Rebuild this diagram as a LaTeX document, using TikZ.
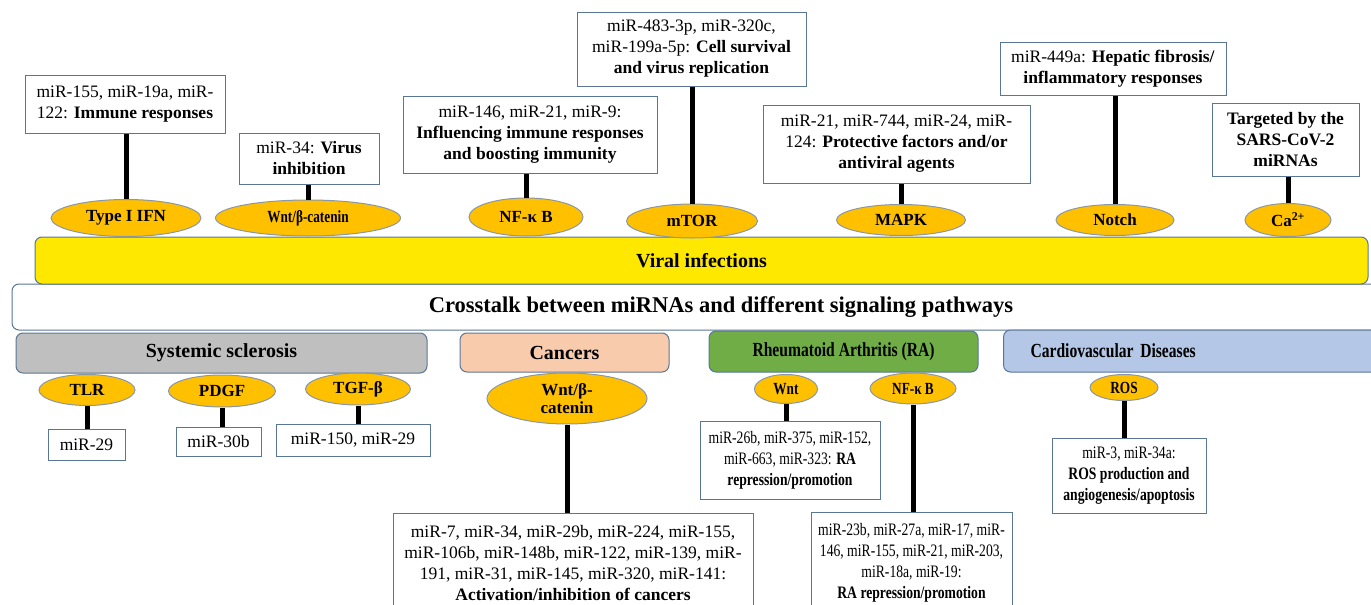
\documentclass[tikz,border=0pt]{standalone}
\usepackage{fontspec}
\setmainfont{Liberation Serif}
\newfontfamily\condensed{Liberation Serif}[FakeStretch=0.78]
\usetikzlibrary{shapes.geometric}

\definecolor{viralyellow}{HTML}{FFE800}
\definecolor{pathgold}{HTML}{FFC000}
\definecolor{boxedge}{HTML}{5A7696}
\definecolor{ovaledge}{HTML}{8A97A6}
\definecolor{ssgray}{HTML}{BFBFBF}
\definecolor{cancerpink}{HTML}{F8CBAD}
\definecolor{ragreen}{HTML}{70AD47}
\definecolor{cvdblue}{HTML}{B4C7E7}

\tikzset{
  mirbox/.style={draw=boxedge, fill=white, line width=1pt, align=center, inner sep=0pt,
                 font=\fontsize{17.5}{21}\selectfont},
  pathway/.style={ellipse, draw=ovaledge, fill=pathgold, line width=1pt, inner sep=0pt,
                  align=center, font=\bfseries\fontsize{17}{18}\selectfont},
  disease/.style={draw=boxedge, rounded corners=7pt, line width=1pt, inner sep=0pt,
                  font=\bfseries\fontsize{20}{22}\selectfont},
  narrowbox/.style={font=\condensed\fontsize{17.5}{21}\selectfont},
  narrowoval/.style={font=\condensed\bfseries\fontsize{17}{18}\selectfont},
  narrowlabel/.style={font=\condensed\bfseries\fontsize{20}{22}\selectfont},
  link/.style={line width=5pt, draw=black},
}

\begin{document}
\begin{tikzpicture}[x=1pt, y=-1pt]
  \clip (0,0) rectangle (1371,605);
  %
  % the two long bars
  \node[disease, fill=white, minimum width=1418pt, minimum height=46pt,
        font=\bfseries\fontsize{22.5}{24}\selectfont] (crosstalk) at (721,307)
       {Crosstalk between miRNAs and different signaling pathways};
  \node[disease, fill=viralyellow, minimum width=1333pt, minimum height=47pt] (viral) at (701.5,260.5)
       {Viral infections};
  %
  % viral infections: pathways
  \node[pathway, minimum width=150pt, minimum height=37pt] (ifn)   at (126,218)  {Type I IFN};
  \node[pathway, narrowoval, minimum width=185pt, minimum height=36pt] (vwnt) at (308,218) {Wnt/β-catenin};
  \node[pathway, minimum width=114pt, minimum height=38pt] (vnfkb) at (526,217)  {NF-κ B};
  \node[pathway, minimum width=131pt, minimum height=34pt] (mtor)  at (692,221)  {mTOR};
  \node[pathway, minimum width=129pt, minimum height=31pt] (mapk)  at (901,220)  {MAPK};
  \node[pathway, minimum width=118pt, minimum height=31pt] (notch) at (1115,220) {Notch};
  \node[pathway, minimum width=86pt,  minimum height=33pt] (calc)  at (1288,220) {Ca\textsuperscript{2+}};
  %
  % viral infections: miRNAs
  \node[mirbox, minimum width=200pt, minimum height=58pt] (immune) at (125,104)
       {miR-155, miR-19a, miR-\\122: \textbf{Immune responses}};
  \node[mirbox, minimum width=140pt, minimum height=51pt] (virus) at (309,158.5)
       {miR-34: \textbf{Virus}\\\textbf{inhibition}};
  \node[mirbox, minimum width=254pt, minimum height=77pt] (boost) at (530,134.5)
       {miR-146, miR-21, miR-9:\\\textbf{Influencing immune responses}\\\textbf{and boosting immunity}};
  \node[mirbox, minimum width=229pt, minimum height=74pt] (survival) at (691.5,49)
       {miR-483-3p, miR-320c,\\miR-199a-5p: \textbf{Cell survival}\\\textbf{and virus replication}};
  \node[mirbox, minimum width=267pt, minimum height=78pt] (protect) at (896.5,144)
       {miR-21, miR-744, miR-24, miR-\\124: \textbf{Protective factors and/or}\\\textbf{antiviral agents}};
  \node[mirbox, minimum width=226pt, minimum height=53pt] (hepatic) at (1113,68.5)
       {miR-449a: \textbf{Hepatic fibrosis/}\\\textbf{inflammatory responses}};
  \node[mirbox, minimum width=147pt, minimum height=73pt, font=\bfseries\fontsize{17.5}{21}\selectfont] (sars) at (1285.5,139.5)
       {Targeted by the\\SARS-CoV-2\\miRNAs};
  %
  \draw[link] (ifn.north)   -- (ifn.north |- immune.south);
  \draw[link] (vwnt.north)  -- (vwnt.north |- virus.south);
  \draw[link] (vnfkb.north) -- (vnfkb.north |- boost.south);
  \draw[link] (mtor.north)  -- (mtor.north |- survival.south);
  \draw[link] (mapk.north)  -- (mapk.north |- protect.south);
  \draw[link] (notch.north) -- (notch.north |- hepatic.south);
  \draw[link] (calc.north)  -- (calc.north |- sars.south);
  %
  % diseases
  \node[disease, fill=ssgray, minimum width=411pt, minimum height=40pt] (ssc) at (221.5,353) {Systemic sclerosis};
  \node[disease, fill=cancerpink, minimum width=209pt, minimum height=39pt] (cancer) at (564.5,352.5) {Cancers};
  \node[disease, narrowlabel, fill=ragreen, minimum width=269pt, minimum height=41pt] (ra) at (843.5,351.5)
       {Rheumatoid Arthritis (RA)};
  \node[disease, narrowlabel, fill=cvdblue, anchor=west, minimum width=420pt, minimum height=42pt,
        text width=366pt, inner xsep=27pt, align=left] (cvd) at (1003,351) {Cardiovascular Diseases};
  %
  % systemic sclerosis
  \node[pathway, minimum width=96pt,  minimum height=31pt] (tlr)  at (87,390)  {TLR};
  \node[pathway, minimum width=107pt, minimum height=32pt] (pdgf) at (222,391) {PDGF};
  \node[pathway, minimum width=105pt, minimum height=32pt] (tgf)  at (358,389) {TGF-β};
  \node[mirbox, minimum width=77pt,  minimum height=31pt] (m29)  at (86.5,444.5) {miR-29};
  \node[mirbox, minimum width=85pt,  minimum height=29pt] (m30b) at (218.5,441.5) {miR-30b};
  \node[mirbox, minimum width=154pt, minimum height=32pt] (m150) at (353,440) {miR-150, miR-29};
  \draw[link] (tlr.south)  -- (tlr.south |- m29.north);
  \draw[link] (pdgf.south) -- (pdgf.south |- m30b.north);
  \draw[link] (tgf.south)  -- (tgf.south |- m150.north);
  %
  % cancers
  \node[pathway, minimum width=160pt, minimum height=51pt] (cwnt) at (567,398.5) {Wnt/β-\\catenin};
  \node[mirbox, minimum width=360pt, minimum height=100pt] (cmir) at (573,563)
       {miR-7, miR-34, miR-29b, miR-224, miR-155,\\miR-106b, miR-148b, miR-122, miR-139, miR-\\191, miR-31, miR-145, miR-320, miR-141:\\\textbf{Activation/inhibition of cancers}};
  \draw[link] (cwnt.south) -- (cwnt.south |- cmir.north);
  %
  % rheumatoid arthritis
  \node[pathway, narrowoval, minimum width=63pt, minimum height=29pt] (rwnt)  at (786,389)   {Wnt};
  \node[pathway, narrowoval, minimum width=86pt, minimum height=31pt] (rnfkb) at (913,388.5) {NF-κ B};
  \node[mirbox, narrowbox, minimum width=180pt, minimum height=78pt] (ramir) at (790,460)
       {miR-26b, miR-375, miR-152,\\miR-663, miR-323: \textbf{RA}\\\textbf{repression/promotion}};
  \node[mirbox, narrowbox, minimum width=201pt, minimum height=102pt] (ranf) at (911.5,563)
       {miR-23b, miR-27a, miR-17, miR-\\146, miR-155, miR-21, miR-203,\\miR-18a, miR-19:\\\textbf{RA repression/promotion}};
  \draw[link] (rwnt.south)  -- (rwnt.south |- ramir.north);
  \draw[link] (rnfkb.south) -- (rnfkb.south |- ranf.north);
  %
  % cardiovascular diseases
  \node[pathway, narrowoval, minimum width=68pt, minimum height=26pt] (ros) at (1124,387.5) {ROS};
  \node[mirbox, narrowbox, minimum width=154pt, minimum height=75pt] (rosmir) at (1129,475.5)
       {miR-3, miR-34a:\\\textbf{ROS production and}\\\textbf{angiogenesis/apoptosis}};
  \draw[link] (ros.south) -- (ros.south |- rosmir.north);
\end{tikzpicture}
\end{document}
